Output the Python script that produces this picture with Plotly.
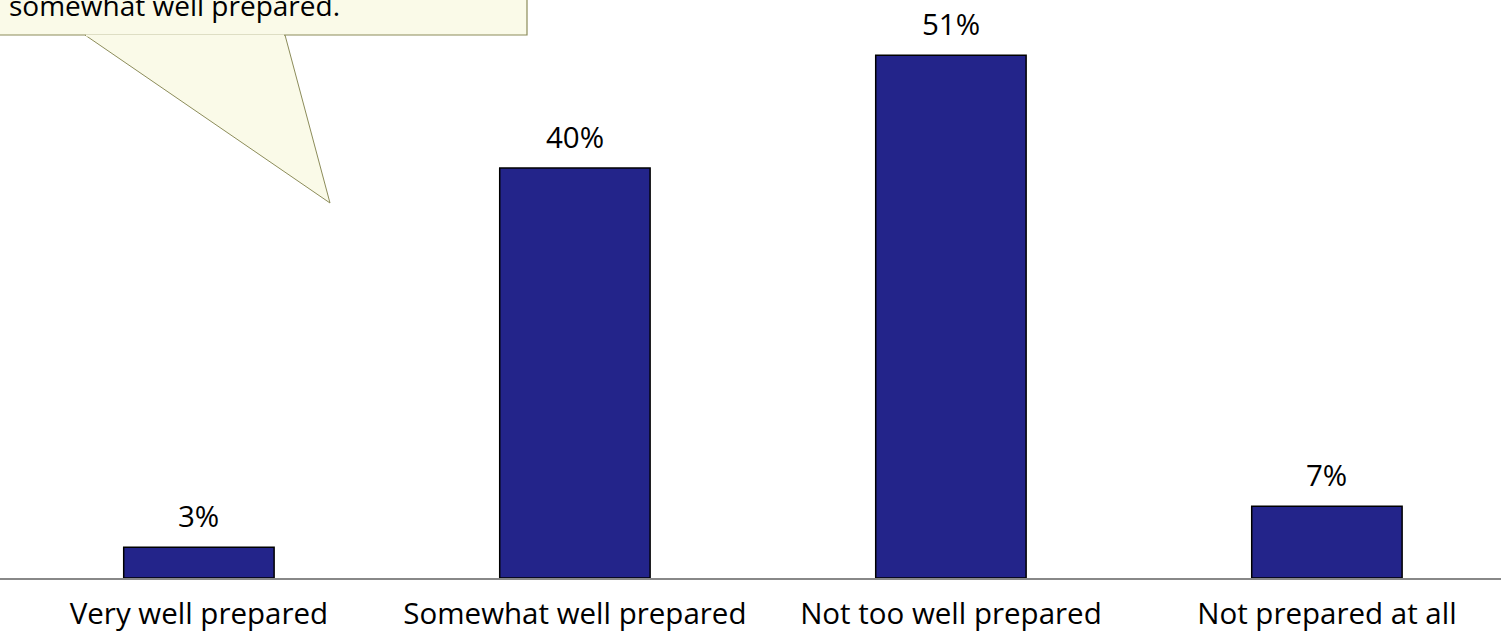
import plotly.graph_objects as go

# Survey: how well prepared
categories = ["Very well prepared", "Somewhat well prepared", "Not too well prepared", "Not prepared at all"]
values = [3, 40, 51, 7]
value_labels = ["3%", "40%", "51%", "7%"]
callout_text = "somewhat well prepared."

W, H = 1501, 639
PLOT_BOTTOM = 578  # px from top


def px_x(x):
    return x / W


def px_y(y):
    return (PLOT_BOTTOM - y) / PLOT_BOTTOM


fig = go.Figure(go.Bar(
    x=list(range(len(categories))),
    y=values,
    width=0.4,
    marker=dict(color="#23248A", line=dict(color="#000000", width=1.5)),
    cliponaxis=False,
))

# value labels above bars
for i, (v, lab) in enumerate(zip(values, value_labels)):
    fig.add_annotation(x=i, y=v, text=lab, showarrow=False, yanchor="middle",
                       yshift=32, font=dict(size=29.5, color="#000000"))

# callout box + pointer
fig.add_shape(type="path", xref="paper", yref="paper",
              path=f"M {px_x(85)} {px_y(35)} L {px_x(330)} {px_y(203)} L {px_x(285)} {px_y(35)} Z",
              fillcolor="#FAFAE8", line=dict(color="#8C8C5A", width=1), layer="above")
fig.add_shape(type="rect", xref="paper", yref="paper",
              x0=px_x(-2), x1=px_x(527), y0=px_y(35), y1=px_y(-5),
              fillcolor="#FAFAE8", line=dict(color="#8C8C5A", width=1.2), layer="above")
fig.add_shape(type="path", xref="paper", yref="paper",
              path=f"M {px_x(86)} {px_y(35.5)} L {px_x(284)} {px_y(35.5)}",
              line=dict(color="#FAFAE8", width=2), layer="above")
fig.add_annotation(xref="paper", yref="paper", x=px_x(7), y=px_y(5),
                   xanchor="left", yanchor="middle", showarrow=False,
                   text=callout_text, font=dict(size=28, color="#000000"))

fig.update_layout(
    width=W, height=H,
    margin=dict(l=0, r=0, t=0, b=H - PLOT_BOTTOM),
    plot_bgcolor="white", paper_bgcolor="white",
    font=dict(family="Open Sans, sans-serif", color="#000000"),
    showlegend=False,
)
fig.update_xaxes(
    range=[-0.529, 3.463], automargin=False,
    tickmode="array", tickvals=list(range(len(categories))), ticktext=categories,
    tickfont=dict(size=29.5), ticklabelstandoff=9,
    showline=True, linecolor="#888888", linewidth=1.5,
    showgrid=False, zeroline=False, ticks="",
)
fig.update_yaxes(range=[0, 56.4], visible=False, showgrid=False, zeroline=False,
                 automargin=False)

fig.write_html("out.html", config={"displayModeBar": False},
               post_script="document.body.style.margin='0';")
